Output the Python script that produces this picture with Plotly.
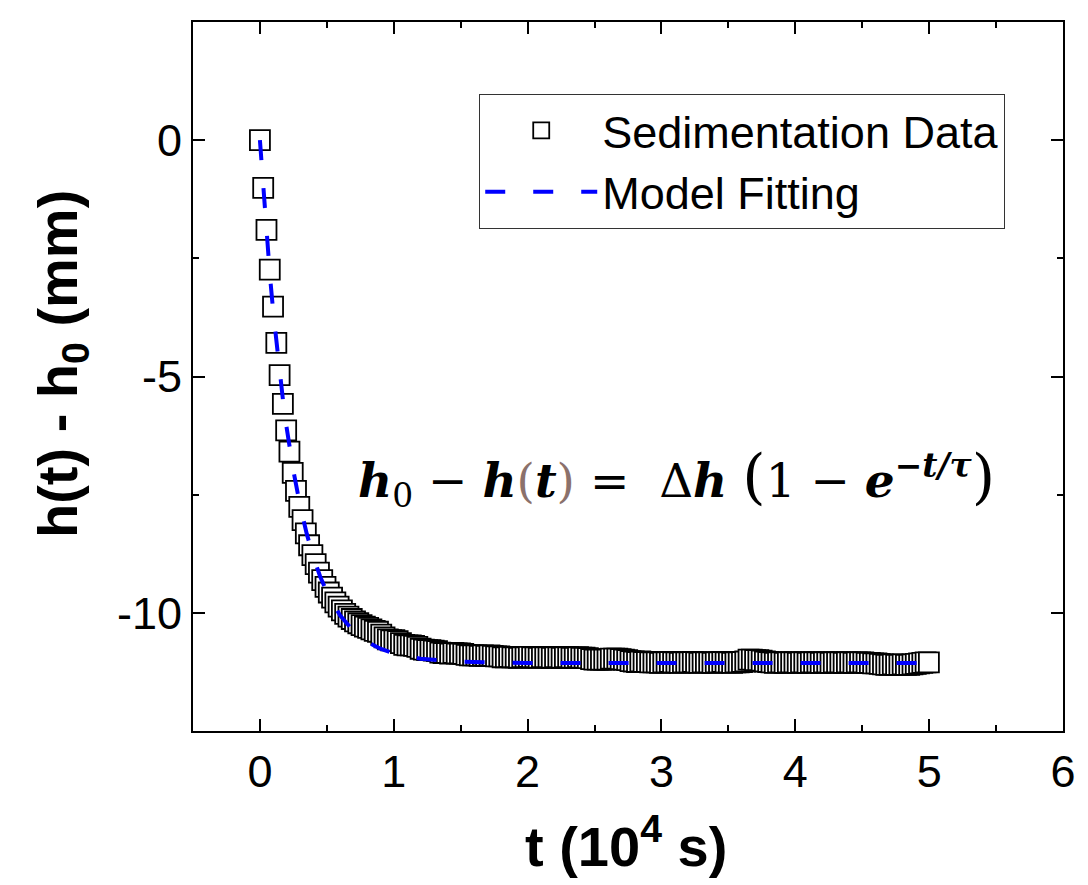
import plotly.graph_objects as go

# Sedimentation measurement: height change h(t) - h0 in mm, one reading per sampling step
SAMPLE_STEP = 0.0245  # time between readings, in units of 1e4 s

h_early = [0.0, -1.01, -1.90, -2.74, -3.52, -4.29, -4.97, -5.58, -6.14, -6.59,
           -7.04, -7.42, -7.76, -8.04, -8.32, -8.57, -8.78]
h_mid = [-8.97, -9.15, -9.31, -9.45, -9.57, -9.68, -9.78, -9.87, -9.95, -10.02,
         -10.08, -10.13, -10.18, -10.22, -10.26, -10.29, -10.32, -10.35, -10.38, -10.40]
h_late = [-10.46, -10.52, -10.56, -10.58, -10.58, -10.60, -10.64, -10.68, -10.69, -10.69,
          -10.70, -10.72, -10.76, -10.78, -10.79, -10.79, -10.80, -10.81, -10.84,
          -10.85, -10.85, -10.86, -10.85, -10.86, -10.86, -10.87,
          -10.89, -10.90, -10.90, -10.90, -10.91, -10.90, -10.91, -10.90, -10.91, -10.92, -10.92]
h_plateau_a = [-10.94, -10.94, -10.93, -10.94, -10.94, -10.95, -10.94, -10.94, -10.93,
               -10.94, -10.94, -10.95, -10.94, -10.94, -10.94, -10.95, -10.94, -10.94,
               -10.95, -10.94, -10.94, -10.95, -10.95, -10.94, -10.95, -10.95, -10.96,
               -10.98, -10.99, -10.99, -10.99, -10.99, -10.99, -10.97, -10.97, -10.97,
               -10.98, -10.99, -11.00, -11.02]
h_plateau_b = [-11.03, -11.04, -11.03, -11.04, -11.04, -11.05,
               -11.05, -11.05, -11.06, -11.05, -11.05, -11.04, -11.05, -11.05, -11.06, -11.05,
               -11.05, -11.05, -11.04, -11.05, -11.06, -11.05, -11.05, -11.05, -11.06, -11.05,
               -11.05, -11.04, -11.05, -11.05, -11.06, -11.05, -11.05, -11.04, -11.03,
               -10.99, -10.99, -11.00, -11.00, -11.01, -11.03, -11.04]
h_plateau_c = [-11.05, -11.06, -11.05, -11.05, -11.06, -11.05, -11.05, -11.05, -11.06, -11.05, -11.05,
               -11.06, -11.05, -11.05, -11.05, -11.06, -11.05, -11.05, -11.06, -11.05, -11.05, -11.05,
               -11.06, -11.05, -11.05, -11.06, -11.05, -11.05, -11.05, -11.06, -11.06, -11.07, -11.07,
               -11.08, -11.09, -11.10, -11.10, -11.09, -11.10, -11.10, -11.09, -11.10, -11.10, -11.09,
               -11.08, -11.07, -11.06, -11.05, -11.05]

h_data = h_early + h_mid + h_late + h_plateau_a + h_plateau_b + h_plateau_c
t_data = [i * SAMPLE_STEP for i in range(len(h_data))]

# Fitted curve h0 - h(t) = dh (1 - exp(-t/tau)), tabulated
fit_t = [0.0, 0.025, 0.05, 0.075, 0.1, 0.125, 0.15, 0.175, 0.2, 0.25, 0.3, 0.35, 0.4,
         0.45, 0.5, 0.6, 0.7, 0.8, 0.9, 1.0, 1.2, 1.4, 1.6, 1.8, 2.0, 2.5, 3.0, 4.0, 5.0]
fit_h = [0.0, -1.05, -2.01, -2.87, -3.65, -4.35, -4.99, -5.57, -6.09, -6.99, -7.73, -8.33,
         -8.83, -9.23, -9.56, -10.06, -10.39, -10.61, -10.76, -10.86, -10.97, -11.02,
         -11.04, -11.05, -11.06, -11.06, -11.06, -11.06, -11.06]

x_ticks = [0, 1, 2, 3, 4, 5, 6]
x_ticktext = ["0", "1", "2", "3", "4", "5", "6"]
y_ticks = [-10, -5, 0]
y_ticktext = ["-10", "-5", "0"]

SANS = "Liberation Sans, Arial, sans-serif"

fig = go.Figure()
fig.add_trace(go.Scatter(
    x=t_data, y=h_data, mode="markers", name="Sedimentation Data",
    marker=dict(symbol="square", size=20, color="white",
                line=dict(color="black", width=1.8)),
))
fig.add_trace(go.Scatter(
    x=fit_t, y=fit_h, mode="lines", name="Model Fitting",
    line=dict(color="#0000ff", width=4, dash="20px,28px"),
))

axis_common = dict(
    showline=True, linecolor="black", linewidth=2, mirror="allticks",
    ticks="inside", ticklen=12, tickwidth=2, tickcolor="black",
    showgrid=False, zeroline=False,
    tickfont=dict(family=SANS, size=45, color="black"),
)
fig.update_xaxes(range=[-0.5, 6], tickvals=x_ticks, ticktext=x_ticktext,
                 minor=dict(ticks="inside", ticklen=6, tickwidth=2, dtick=0.5,
                            tickcolor="black", showgrid=False),
                 **axis_common)
fig.update_yaxes(range=[-12.5, 2.5], tickvals=y_ticks, ticktext=y_ticktext,
                 minor=dict(ticks="inside", ticklen=6, tickwidth=2, dtick=2.5,
                            tickcolor="black", showgrid=False),
                 **axis_common)

fig.add_annotation(
    text="<b>t (10<sup>4</sup> s)</b>", xref="paper", yref="paper",
    x=0.498, y=-0.104, xanchor="center", yanchor="top", showarrow=False,
    font=dict(family=SANS, size=56, color="black"),
)
fig.add_annotation(
    text="<b>h(t) - h<sub>0</sub> (mm)</b>", xref="paper", yref="paper",
    x=-0.151, y=0.517, xanchor="center", yanchor="middle", textangle=-90,
    showarrow=False, font=dict(family=SANS, size=56, color="black"),
)

paren = '<span style="color:#8b716b">{}</span>'
eq = ("<b><i>h</i></b><sub>0</sub> − <b><i>h</i></b>" + paren.format("(") +
      "<b><i>t</i></b>" + paren.format(")") +
      " =  Δ<b><i>h</i></b> <span style=\"font-size:60px\">(</span>1 − <b><i>e</i></b>"
      "<sup><b><i>−t/τ</i></b></sup><span style=\"font-size:60px\">)</span>")
fig.add_annotation(
    text=eq, xref="paper", yref="paper", x=0.556, y=0.357,
    xanchor="center", yanchor="middle", showarrow=False,
    font=dict(family="DejaVu Serif, serif", size=47, color="black"),
)

fig.update_layout(
    width=1088, height=885,
    margin=dict(l=193, r=14, t=22, b=154),
    paper_bgcolor="white", plot_bgcolor="white",
    showlegend=True,
    legend=dict(
        x=0.329, y=0.899, xanchor="left", yanchor="top",
        bgcolor="white", bordercolor="#333333", borderwidth=1,
        font=dict(family=SANS, size=45, color="black"),
        itemwidth=112, tracegroupgap=0,
    ),
)

fig.write_html("out.html")
